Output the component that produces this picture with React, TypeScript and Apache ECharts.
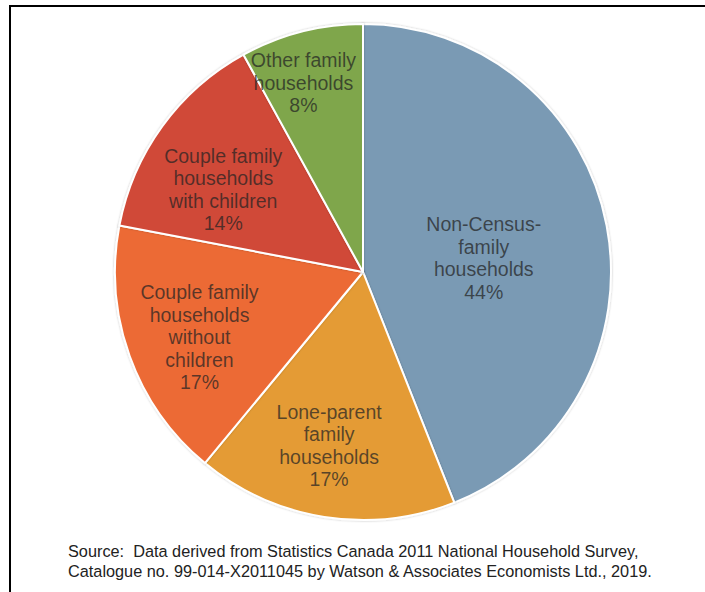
import React, { useEffect, useRef } from "react";
import * as echarts from "echarts";

const categories = [
  "Non-Census-\nfamily\nhouseholds",
  "Lone-parent\nfamily\nhouseholds",
  "Couple family\nhouseholds\nwithout\nchildren",
  "Couple family\nhouseholds\nwith children",
  "Other family\nhouseholds",
];
const shares = [44, 17, 17, 14, 8];
const colors = ["#7a9ab4", "#e49b34", "#ec6b35", "#d04a37", "#7fa64c"];
const sourceLines = [
  "Source:  Data derived from Statistics Canada 2011 National Household Survey,",
  "Catalogue no. 99-014-X2011045 by Watson & Associates Economists Ltd., 2019.",
];

export default function App() {
  const ref = useRef<HTMLDivElement>(null);
  useEffect(() => {
    if (!ref.current) return;
    const chart = echarts.init(ref.current, null, { renderer: "svg" });
    const labelOffsets = [
      [-4, 10],
      [-14, 48],
      [-44, 22],
      [-37, -8],
      [-28, -66],
    ];
    chart.setOption({
      animation: false,
      backgroundColor: "#ffffff",
      graphic: [
        {
          type: "rect",
          shape: { x: 10, y: 6, width: 720, height: 620 },
          style: { fill: "none", stroke: "#000", lineWidth: 2 },
          silent: true,
        },
        {
          type: "text",
          left: 68,
          top: 541,
          style: {
            text: sourceLines.join("\n"),
            font: "16.3px 'Liberation Sans', Arial, sans-serif",
            fill: "#222",
            lineHeight: 20,
          },
        },
      ],
      series: [
        {
          type: "pie",
          center: [363, 272],
          radius: 248,
          startAngle: 90,
          clockwise: true,
          avoidLabelOverlap: false,
          itemStyle: {
            borderColor: "#ffffff",
            borderWidth: 2,
            shadowColor: "rgba(0,0,0,0.25)",
            shadowBlur: 2,
          },
          label: {
            show: true,
            position: "inside",
            formatter: "{b}\n{c}%",
            fontFamily: "'Liberation Sans', Arial, sans-serif",
            fontSize: 19.5,
            lineHeight: 22.5,
            color: "rgba(35,35,35,0.72)",
            align: "center",
          },
          labelLine: { show: false },
          emphasis: { disabled: true },
          data: categories.map((name, i) => ({
            name,
            value: shares[i],
            itemStyle: { color: colors[i] },
            label: { offset: labelOffsets[i] },
          })),
        },
      ],
    });
    return () => chart.dispose();
  }, []);
  return (
    <div
      ref={ref}
      style={{ position: "absolute", left: 0, top: 0, width: 705, height: 592 }}
    />
  );
}
